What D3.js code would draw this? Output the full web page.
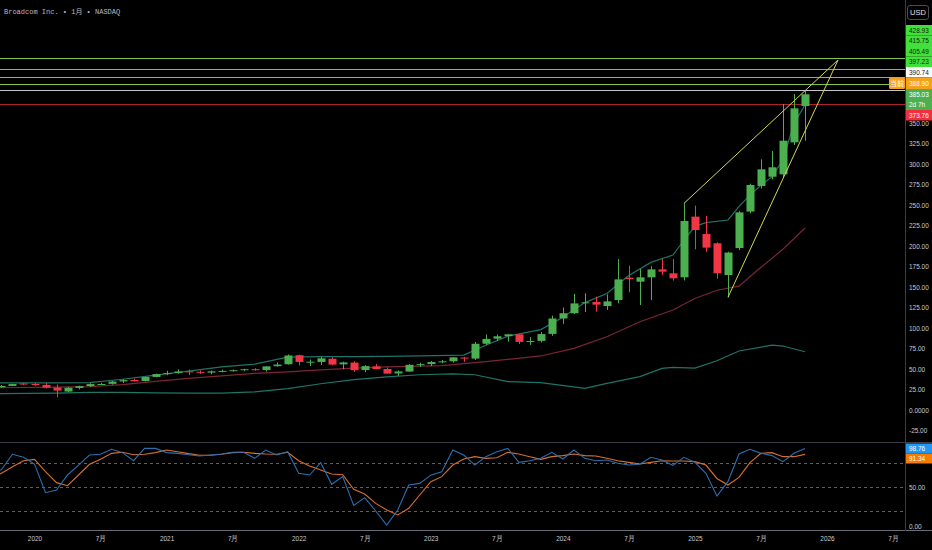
<!DOCTYPE html>
<html>
<head>
<meta charset="utf-8">
<script src="https://cdn.jsdelivr.net/npm/d3@7"></script>
<style>
  html, body { margin: 0; padding: 0; background: #000; }
  svg { display: block; }
  text { font-family: "Liberation Sans", "DejaVu Sans", sans-serif; }
</style>
</head>
<body>
<div id="container"></div>
<script>
const months = [
  "2019-09", "2019-10", "2019-11", "2019-12",
  "2020-01", "2020-02", "2020-03", "2020-04", "2020-05", "2020-06", "2020-07", "2020-08", "2020-09", "2020-10", "2020-11", "2020-12",
  "2021-01", "2021-02", "2021-03", "2021-04", "2021-05", "2021-06", "2021-07", "2021-08", "2021-09", "2021-10", "2021-11", "2021-12",
  "2022-01", "2022-02", "2022-03", "2022-04", "2022-05", "2022-06", "2022-07", "2022-08", "2022-09", "2022-10", "2022-11", "2022-12",
  "2023-01", "2023-02", "2023-03", "2023-04", "2023-05", "2023-06", "2023-07", "2023-08", "2023-09", "2023-10", "2023-11", "2023-12",
  "2024-01", "2024-02", "2024-03", "2024-04", "2024-05", "2024-06", "2024-07", "2024-08", "2024-09", "2024-10", "2024-11", "2024-12",
  "2025-01", "2025-02", "2025-03", "2025-04", "2025-05", "2025-06", "2025-07", "2025-08", "2025-09", "2025-10", "2025-11"
];
const opens = [
  28.3, 27.6, 29.3, 32.3,
  31.7, 30.6, 27.5, 22.5, 26.9, 29.2, 31.6, 31.9, 34.8, 36.7, 35.3, 40.3,
  43.8, 45.3, 47.2, 46.6, 45.6, 47.3, 47.7, 48.6, 49.8, 48.8, 53.4, 55.8,
  66.8, 58.5, 58.6, 62.5, 55.7, 57.8, 48.7, 53.2, 50.0, 44.6, 46.9, 55.0,
  56.0, 58.6, 59.4, 64.0, 62.7, 80.8, 87.0, 90.1, 92.3, 83.1, 84.3, 92.8,
  111.6, 118.0, 130.5, 131.7, 126.8, 134.1, 161.4, 156.5, 161.8, 171.5, 166.7, 161.8,
  235.8, 214.6, 203.3, 164.6, 197.5, 242.0, 273.2, 284.5, 287.4, 326.4, 370.7
];
const highs = [
  29.5, 30.5, 32.0, 32.9,
  32.7, 33.1, 31.0, 28.2, 29.7, 32.5, 33.2, 35.5, 37.8, 38.5, 40.5, 44.4,
  47.8, 49.6, 49.5, 48.3, 48.0, 49.2, 49.3, 50.3, 51.0, 53.6, 57.9, 67.7,
  67.5, 61.6, 64.5, 64.5, 59.0, 59.5, 54.6, 56.0, 51.8, 48.2, 56.0, 57.6,
  59.8, 61.0, 64.5, 64.8, 83.0, 92.2, 92.1, 92.4, 92.6, 89.0, 95.0, 115.0,
  125.0, 141.6, 142.4, 138.2, 141.0, 184.1, 176.0, 172.0, 175.5, 184.1, 184.1, 251.9,
  249.2, 236.6, 204.5, 193.0, 242.5, 276.0, 305.7, 315.9, 373.2, 385.4, 388.9
];
const lows = [
  27.0, 27.0, 29.2, 30.5,
  29.6, 26.5, 15.5, 21.9, 25.2, 28.0, 30.5, 31.0, 33.0, 34.8, 34.8, 39.8,
  42.5, 44.2, 42.5, 44.0, 43.5, 46.0, 46.8, 47.4, 48.0, 47.0, 53.0, 55.4,
  54.5, 53.6, 55.0, 54.7, 49.8, 46.5, 46.1, 49.8, 44.2, 41.5, 46.6, 52.4,
  53.5, 57.0, 57.9, 58.7, 61.0, 79.5, 84.0, 83.5, 80.5, 79.5, 82.5, 90.5,
  105.1, 117.0, 119.6, 119.9, 122.0, 130.1, 143.5, 128.0, 134.0, 164.6, 157.7, 158.0,
  196.0, 193.1, 160.3, 137.4, 195.0, 240.0, 270.0, 281.3, 284.0, 323.2, 328.4
];
const closes = [
  27.6, 29.3, 31.6, 31.6,
  30.5, 27.3, 23.7, 27.2, 29.1, 31.6, 31.7, 34.7, 36.4, 35.0, 40.2, 43.8,
  45.0, 47.0, 46.4, 45.6, 47.2, 47.7, 48.5, 49.7, 48.5, 53.2, 55.4, 66.5,
  58.6, 58.9, 63.0, 55.4, 58.0, 48.6, 53.5, 49.9, 44.4, 47.0, 55.1, 55.9,
  58.5, 59.4, 64.2, 62.7, 80.8, 86.7, 89.9, 92.3, 83.1, 84.1, 92.6, 111.6,
  118.0, 130.0, 131.3, 128.5, 132.5, 159.3, 159.8, 161.8, 171.5, 168.7, 160.6, 230.5,
  219.5, 198.0, 166.7, 192.0, 241.0, 274.4, 293.5, 296.0, 328.4, 367.9, 385.03
];

// stochastic RSI, K (blue) and D (orange), same months as the candles
const stochK = [
  66, 72, 91.4, 87.6,
  79.1, 42.8, 46.2, 65.2, 77.8, 90.5, 91.4, 97.7, 93.5, 83.3, 98.9, 98.9,
  93.5, 92.6, 90.9, 89.2, 90.5, 91.8, 93.9, 93.9, 86.3, 96.8, 90.5, 94.7,
  67.3, 65.2, 80.8, 53.4, 63.1, 26.8, 36.5, 19.6, 1.9, 20.9, 52.5, 54.6,
  65.0, 69.4, 96.8, 90.5, 77.8, 88.4, 94.7, 98.9, 81.2, 83.3, 86.3, 93.9,
  85.4, 96.8, 86.3, 83.3, 84.2, 80.0, 77.8, 78.7, 87.6, 84.2, 77.4, 87.6,
  81.2, 67.3, 38.6, 56.8, 91.8, 97.7, 92.6, 89.7, 82.1, 92.6, 98.76
];
const stochD = [
  62, 67.3, 75.7, 83.3,
  85.0, 69.4, 55.5, 51.7, 65.2, 78.7, 85.0, 92.6, 93.9, 90.9, 91.4, 93.5,
  96.8, 94.7, 92.2, 90.1, 90.1, 91.4, 93.5, 93.9, 92.6, 91.8, 91.4, 93.9,
  83.3, 76.6, 71.5, 66.5, 65.6, 47.0, 41.1, 29.3, 20.9, 14.6, 23.0, 39.9,
  56.8, 63.1, 77.8, 85.4, 88.4, 86.3, 87.1, 93.9, 91.8, 88.4, 85.0, 88.4,
  89.7, 91.8, 89.7, 89.2, 86.3, 83.3, 81.2, 79.1, 81.2, 83.3, 82.9, 82.9,
  82.1, 77.8, 60.8, 52.5, 62.2, 80.8, 92.6, 93.5, 88.4, 88.4, 91.34
];

// bollinger bands at a few months each
const upperMonths = ["2019-09", "2019-12", "2020-03", "2020-06", "2020-09", "2020-12", "2021-03", "2021-06", "2021-09", "2021-12",
  "2022-03", "2022-06", "2022-09", "2022-12", "2023-04", "2023-06", "2023-08", "2023-11", "2024-01", "2024-03", "2024-05",
  "2024-07", "2024-09", "2024-11", "2024-12", "2025-01", "2025-02", "2025-04", "2025-05", "2025-06", "2025-07", "2025-08",
  "2025-09", "2025-10", "2025-11"];
const upperValues = [33, 33, 33, 33.3, 37.5, 42.5, 47.5, 52.5, 56, 64.5,
  65, 65, 65.5, 66, 67, 79, 90, 98, 113, 131, 142,
  164, 180, 189, 207, 224, 228.5, 231.7, 248, 262, 274, 284.5,
  305, 349.6, 372];
const midMonths = ["2019-09", "2020-03", "2020-06", "2020-09", "2020-12", "2021-03", "2021-06", "2021-09", "2021-12", "2022-03",
  "2022-06", "2022-09", "2022-12", "2023-02", "2023-06", "2023-11", "2024-02", "2024-05", "2024-08", "2024-11", "2025-01",
  "2025-03", "2025-05", "2025-07", "2025-09", "2025-11"];
const midValues = [27, 28, 28.5, 31, 35, 38.6, 41.5, 44.7, 46.5, 49,
  51, 52.5, 53.5, 54, 58.9, 65.9, 75.2, 89.4, 107.7, 122, 136,
  146, 151, 174, 196, 222];
const lowerMonths = ["2019-09", "2020-03", "2020-06", "2020-09", "2020-12", "2021-03", "2021-06", "2021-09", "2021-12", "2022-03",
  "2022-06", "2022-09", "2022-12", "2023-03", "2023-05", "2023-08", "2023-11", "2024-03", "2024-05", "2024-08", "2024-10",
  "2024-11", "2025-01", "2025-03", "2025-05", "2025-08", "2025-09", "2025-11"];
const lowerValues = [20, 20.5, 21.5, 21.5, 21, 20.5, 20.5, 22, 26, 32,
  37, 40.5, 43, 44, 43, 34.6, 33.3, 26.4, 32.5, 40.7, 50.8,
  52, 51, 60, 72, 79, 78, 71];

// drawn levels and the wedge
const greenLevels = [428.93, 415.75, 405.49, 397.23];
const greyLevel = 390.74;
const redLevel = 373.76;
const wedgeUpper = [["2024-12", 251.9], ["2026-02", 426.8]];
const wedgeLower = [["2025-04", 137.4], ["2026-02", 426.8]];

const priceTicks = [-25, 0, 25, 50, 75, 100, 125, 150, 175, 200, 225, 250, 275, 300, 325, 350];
const oscTicks = [0, 50];
const oscGuides = [20, 50, 80];

const monthIndex = s => {
  const [y, m] = s.split("-").map(Number);
  return (y - 2020) * 12 + m - 1;
};

// the chart's own font is narrow, squeeze the glyphs a bit
function squeeze(sel, factor) {
  sel.each(function() {
    const len = this.getComputedTextLength();
    d3.select(this)
      .attr("textLength", len * factor)
      .attr("lengthAdjust", "spacingAndGlyphs");
  });
}

function drawChart() {
  const w = 932;
  const h = 550;
  const axisX = 905;
  const priceBottom = 442;
  const oscTop = 443;
  const oscBottom = 530;

  const green = "#4caf50";
  const red = "#f23645";
  const axisText = "#c8cad0";
  const labelSize = "7.5px";
  const narrow = 0.86;

  const x = d3.scaleLinear().domain([0, 72]).range([34.5, 827]);
  const yPrice = d3.scaleLinear().domain([0, 350]).range([410, 123]);
  const yOsc = d3.scaleLinear().domain([0, 100]).range([526.5, 447.5]);

  const svg = d3.select("#container")
    .append("svg")
    .attr("width", w)
    .attr("height", h);

  svg.append("rect").attr("width", w).attr("height", h).attr("fill", "#000");

  const defs = svg.append("defs");
  defs.append("clipPath").attr("id", "clipPrice")
    .append("rect").attr("x", 0).attr("y", 0).attr("width", axisX).attr("height", priceBottom);
  defs.append("clipPath").attr("id", "clipOsc")
    .append("rect").attr("x", 0).attr("y", oscTop).attr("width", axisX).attr("height", oscBottom - oscTop);

  const price = svg.append("g").attr("clip-path", "url(#clipPrice)");

  // bands
  const bandLine = d3.line().x(d => x(monthIndex(d[0]))).y(d => yPrice(d[1]));
  const bands = [
    [upperMonths, upperValues, "#1f7468"],
    [midMonths, midValues, "#7a2634"],
    [lowerMonths, lowerValues, "#1f7468"]
  ];
  bands.forEach(([ms, vs, color]) => {
    price.append("path")
      .datum(ms.map((m, i) => [m, vs[i]]))
      .attr("d", bandLine)
      .attr("fill", "none")
      .attr("stroke", color)
      .attr("stroke-width", 1.2);
  });

  // horizontal levels
  const levels = greenLevels.map(v => ({ v, color: "#7cc254" }))
    .concat([{ v: greyLevel, color: "#c4c4cc" }, { v: redLevel, color: "#b0222e" }]);
  price.selectAll("line.level")
    .data(levels)
    .enter()
    .append("line")
    .attr("class", "level")
    .attr("x1", 0)
    .attr("x2", axisX)
    .attr("y1", d => Math.round(yPrice(d.v)) + 0.5)
    .attr("y2", d => Math.round(yPrice(d.v)) + 0.5)
    .attr("stroke", d => d.color)
    .attr("stroke-width", 1);

  // candles
  const candles = months.map((m, i) => ({
    m: monthIndex(m), o: opens[i], h: highs[i], l: lows[i], c: closes[i]
  }));
  const bodyW = 8;

  price.selectAll("line.wick")
    .data(candles)
    .enter()
    .append("line")
    .attr("class", "wick")
    .attr("x1", d => Math.round(x(d.m)) + 0.5)
    .attr("x2", d => Math.round(x(d.m)) + 0.5)
    .attr("y1", d => yPrice(d.h))
    .attr("y2", d => yPrice(d.l))
    .attr("stroke", d => d.c >= d.o ? green : red)
    .attr("stroke-width", 1);

  price.selectAll("rect.body")
    .data(candles)
    .enter()
    .append("rect")
    .attr("class", "body")
    .attr("x", d => Math.round(x(d.m)) + 0.5 - bodyW / 2)
    .attr("y", d => yPrice(Math.max(d.o, d.c)))
    .attr("width", bodyW)
    .attr("height", d => Math.max(1, Math.abs(yPrice(d.o) - yPrice(d.c))))
    .attr("fill", d => d.c >= d.o ? green : red);

  // wedge
  const wedgeLine = d3.line().x(d => x(monthIndex(d[0]))).y(d => yPrice(d[1]));
  [wedgeUpper, wedgeLower].forEach(pts => {
    price.append("path")
      .datum(pts)
      .attr("d", wedgeLine)
      .attr("fill", "none")
      .attr("stroke", "#d3d84c")
      .attr("stroke-width", 1);
  });

  // oscillator panel
  const osc = svg.append("g").attr("clip-path", "url(#clipOsc)");
  osc.selectAll("line.guide")
    .data(oscGuides)
    .enter()
    .append("line")
    .attr("x1", 0)
    .attr("x2", axisX)
    .attr("y1", d => Math.round(yOsc(d)) + 0.5)
    .attr("y2", d => Math.round(yOsc(d)) + 0.5)
    .attr("stroke", "#5d606b")
    .attr("stroke-dasharray", "3,3");

  const oscLine = d3.line().x(d => x(d[0])).y(d => yOsc(d[1]));
  osc.append("path")
    .datum(months.map((m, i) => [monthIndex(m), stochD[i]]))
    .attr("d", oscLine)
    .attr("fill", "none")
    .attr("stroke", "#d8702c")
    .attr("stroke-width", 1.1);
  osc.append("path")
    .datum(months.map((m, i) => [monthIndex(m), stochK[i]]))
    .attr("d", oscLine)
    .attr("fill", "none")
    .attr("stroke", "#2b6fae")
    .attr("stroke-width", 1.1);

  // separators
  svg.append("line").attr("x1", 0).attr("x2", w).attr("y1", 442.5).attr("y2", 442.5)
    .attr("stroke", "#3a3d45");
  svg.append("line").attr("x1", 0).attr("x2", w).attr("y1", 530.5).attr("y2", 530.5)
    .attr("stroke", "#6a6d75").attr("stroke-width", 1.2);
  svg.append("line").attr("x1", axisX + 0.5).attr("x2", axisX + 0.5).attr("y1", 0).attr("y2", 531)
    .attr("stroke", "#3a3d45");

  // price axis
  const priceAxis = d3.axisRight(yPrice)
    .tickValues(priceTicks)
    .tickSize(0)
    .tickPadding(4)
    .tickFormat(v => v === 0 ? "0.0000" : v.toFixed(2));
  svg.append("g")
    .attr("transform", `translate(${axisX}, 0)`)
    .call(priceAxis)
    .call(g => g.select(".domain").remove())
    .selectAll("text")
    .attr("fill", axisText)
    .style("font-size", labelSize)
    .call(squeeze, narrow);

  const oscAxis = d3.axisRight(yOsc)
    .tickValues(oscTicks)
    .tickSize(0)
    .tickPadding(4)
    .tickFormat(v => v.toFixed(2));
  svg.append("g")
    .attr("transform", `translate(${axisX}, 0)`)
    .call(oscAxis)
    .call(g => g.select(".domain").remove())
    .selectAll("text")
    .attr("fill", axisText)
    .style("font-size", labelSize)
    .call(squeeze, narrow);

  // time axis
  const timeTicks = d3.range(0, 79, 6);
  const timeAxis = d3.axisBottom(x)
    .tickValues(timeTicks)
    .tickSize(0)
    .tickPadding(6)
    .tickFormat(m => m % 12 === 0 ? String(2020 + m / 12) : "7月");
  svg.append("g")
    .attr("transform", `translate(0, ${oscBottom})`)
    .call(timeAxis)
    .call(g => g.select(".domain").remove())
    .selectAll("text")
    .attr("fill", axisText)
    .style("font-size", labelSize)
    .call(squeeze, narrow);

  // price labels on the axis, stacked
  const tags = [
    { lines: [greenLevels[0].toFixed(2)], bg: "#42e03a", fg: "#10200f" },
    { lines: [greenLevels[1].toFixed(2)], bg: "#42e03a", fg: "#10200f" },
    { lines: [greenLevels[2].toFixed(2)], bg: "#42e03a", fg: "#10200f" },
    { lines: [greenLevels[3].toFixed(2)], bg: "#42e03a", fg: "#10200f" },
    { lines: [greyLevel.toFixed(2)], bg: "#ffffff", fg: "#131313" },
    { lines: [highs[highs.length - 1].toFixed(2)], bg: "#f5a11c", fg: "#ffffff", side: "当前" },
    { lines: [closes[closes.length - 1].toFixed(2), "2d 7h"], bg: "#4caf50", fg: "#ffffff" },
    { lines: [redLevel.toFixed(2)], bg: "#f0303e", fg: "#ffffff" }
  ];
  const lineH = 10.5;
  let top = 25;
  const tagG = svg.append("g");
  tags.forEach(t => {
    const hh = lineH * t.lines.length + (t.side ? 1 : 0);
    tagG.append("rect")
      .attr("x", axisX + 1).attr("y", top)
      .attr("width", w - axisX - 1).attr("height", hh)
      .attr("fill", t.bg);
    t.lines.forEach((s, i) => {
      tagG.append("text")
        .attr("x", axisX + 4)
        .attr("y", top + lineH * i + lineH / 2 + (t.side ? 0.5 : 0))
        .attr("dy", "0.35em")
        .attr("fill", t.fg)
        .style("font-size", labelSize)
        .text(s)
        .call(squeeze, narrow);
    });
    if (t.side) {
      tagG.append("rect")
        .attr("x", axisX - 16).attr("y", top).attr("width", 16).attr("height", hh)
        .attr("rx", 1.5)
        .attr("fill", t.bg);
      tagG.append("text")
        .attr("x", axisX - 8).attr("y", top + hh / 2)
        .attr("dy", "0.35em")
        .attr("text-anchor", "middle")
        .attr("fill", "#ffffff")
        .style("font-family", "'Noto Sans CJK SC', sans-serif")
        .style("font-size", "7px")
        .text(t.side);
    }
    top += hh;
  });

  // oscillator value labels
  const oscTags = [
    { v: stochK[stochK.length - 1], bg: "#2196f3" },
    { v: stochD[stochD.length - 1], bg: "#f57c00" }
  ];
  let prevBottom = oscTop;
  oscTags.forEach(t => {
    const cy = Math.max(yOsc(t.v), prevBottom + 5);
    svg.append("rect")
      .attr("x", axisX + 1).attr("y", cy - 5)
      .attr("width", w - axisX - 1).attr("height", 10)
      .attr("fill", t.bg);
    svg.append("text")
      .attr("x", axisX + 4).attr("y", cy)
      .attr("dy", "0.35em")
      .attr("fill", "#ffffff")
      .style("font-size", labelSize)
      .text(t.v.toFixed(2))
      .call(squeeze, narrow);
    prevBottom = cy + 5;
  });

  // currency box and title
  svg.append("rect")
    .attr("x", 907.5).attr("y", 5.5).attr("width", 21).attr("height", 14)
    .attr("rx", 2.5)
    .attr("fill", "#000")
    .attr("stroke", "#4a4d56");
  svg.append("text")
    .attr("x", 918).attr("y", 12.5)
    .attr("dy", "0.35em")
    .attr("text-anchor", "middle")
    .attr("fill", "#e0e2e6")
    .style("font-size", labelSize)
    .text("USD");

  svg.append("text")
    .attr("x", 4).attr("y", 12)
    .attr("dy", "0.35em")
    .attr("fill", "#b8bac0")
    .style("font-family", "'Liberation Mono', 'Noto Sans CJK SC', monospace")
    .style("font-size", "7px")
    .text("Broadcom Inc. • 1月 • NASDAQ");
}

drawChart();
</script>
</body>
</html>
